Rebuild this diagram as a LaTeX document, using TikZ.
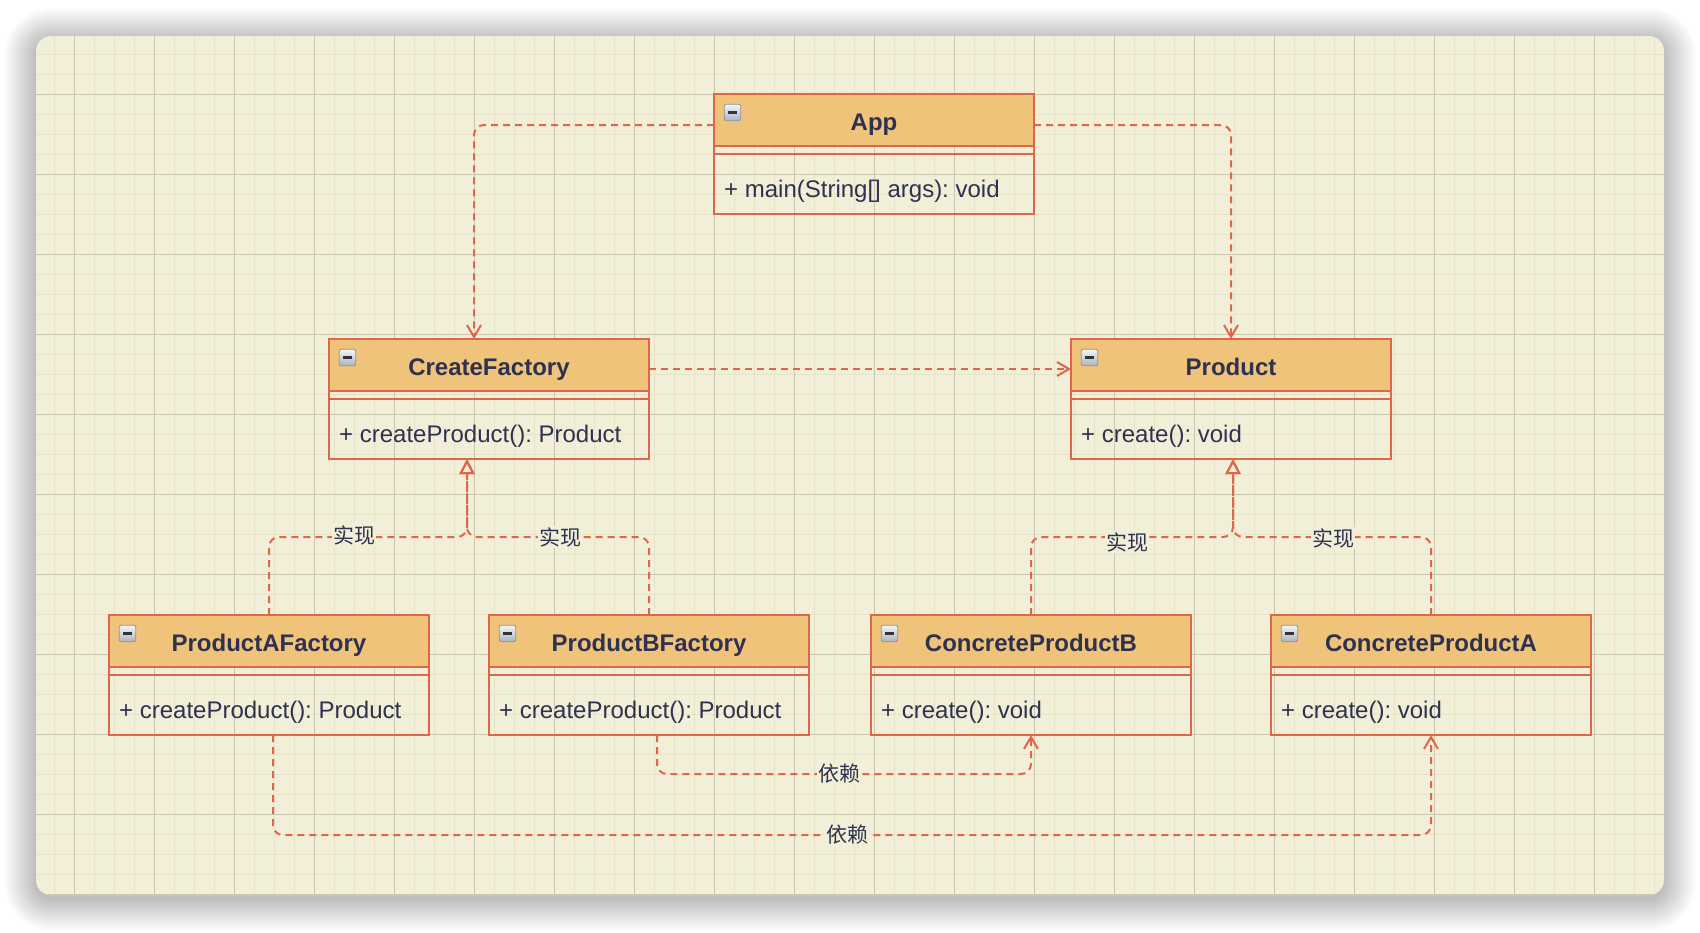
\documentclass[tikz,border=0pt]{standalone}
\usepackage{fontspec}
\setmainfont{Liberation Sans}
\newfontfamily\cjk{Noto Sans CJK SC}
\usetikzlibrary{arrows.meta}
\definecolor{bgc}{HTML}{F1EFD8}
\definecolor{minorc}{HTML}{E7E3C9}
\definecolor{majorc}{HTML}{CAC6B0}
\definecolor{hdr}{HTML}{EFC37A}
\definecolor{strk}{HTML}{E0664B}
\definecolor{txt}{HTML}{2F3150}
\definecolor{icontop}{HTML}{F4F6F8}
\definecolor{iconbot}{HTML}{A9B3BF}
\definecolor{iconline}{HTML}{8896A6}
\newcommand\umlclass[5]{%
  \filldraw[fill=hdr,draw=strk,line width=2.2pt] (#2,#3) rectangle ({#2+320},{#3+52});
  \draw[strk,line width=2.2pt] (#2,{#3+60}) -- ({#2+320},{#3+60});
  \node[classbox] (#1) at ({#2+160},{#3+60}) {};
  \node[icon] (#1-i) at ({#2+18.5},{#3+18.5}) {};
  \fill[black!80] ({#2+13.5},{#3+17.3}) rectangle ({#2+22.5},{#3+19.8});
  \node[titletext] (#1-t) at ({#2+160},{#3+36}) {#4};
  \node[membertext] (#1-m) at ({#2+10},{#3+103}) {#5};
}
\begin{document}
\frenchspacing
\begin{tikzpicture}[x=1pt,y=-1pt,
  classbox/.style={draw=strk,line width=2.2pt,minimum width=320pt,minimum height=120pt,inner sep=0pt,outer sep=0pt},
  icon/.style={draw=iconline,line width=0.8pt,rounded corners=1.5pt,minimum size=16.5pt,inner sep=0pt,top color=icontop,bottom color=iconbot},
  titletext/.style={font=\bfseries\fontsize{24pt}{28pt}\selectfont,text=txt,inner sep=0pt,anchor=base},
  membertext/.style={font=\fontsize{24pt}{28pt}\selectfont,text=txt,anchor=base west,inner sep=0pt},
  lbl/.style={font=\cjk\fontsize{21pt}{24pt}\selectfont,text=txt,fill=bgc,inner sep=1pt},
  dep/.style={strk,line width=2pt,dash pattern=on 7pt off 5pt,rounded corners=10pt,-{Straight Barb[length=12pt,width=14pt,line width=2pt]}},
  real/.style={strk,line width=2pt,dash pattern=on 7pt off 5pt,rounded corners=10pt,-{Triangle[open,length=15pt,width=15pt,line width=2pt]}},
  minorl/.style={minorc,line width=1.6pt},
  majorl/.style={majorc,line width=1pt}]
\useasboundingbox (0,0) rectangle (1700,932);
\fill[white] (0,0) rectangle (1700,932);
% shadow
\foreach \i [evaluate=\i as \r using {15+\i}] in {1,...,32} {
  \fill[black,opacity=0.0065,rounded corners=\r pt] ({36-\i},{40-\i}) rectangle ({1664+\i},{899+\i});
}
\fill[bgc,rounded corners=15pt] (36,36) rectangle (1664,895);
\begin{scope}
  \clip[rounded corners=15pt] (36,36) rectangle (1664,895);
  \foreach \k in {0,...,82} { \draw[minorl] ({14.3+20*\k},36) -- ({14.3+20*\k},895); }
  \foreach \k in {0,...,44} { \draw[minorl] (36,{14.3+20*\k}) -- (1664,{14.3+20*\k}); }
  \foreach \k in {0,...,21} { \draw[majorl] ({-5.7+80*\k},36) -- ({-5.7+80*\k},895); }
  \foreach \k in {0,...,11} { \draw[majorl] (36,{14.3+80*\k}) -- (1664,{14.3+80*\k}); }
\end{scope}
% classes
\umlclass{app}{714}{94}{App}{+ main(String[] args): void}
\umlclass{cf}{329}{339}{CreateFactory}{+ createProduct(): Product}
\umlclass{prod}{1071}{339}{Product}{+ create(): void}
\umlclass{pa}{109}{615}{ProductAFactory}{+ createProduct(): Product}
\umlclass{pb}{489}{615}{ProductBFactory}{+ createProduct(): Product}
\umlclass{cpb}{871}{615}{ConcreteProductB}{+ create(): void}
\umlclass{cpa}{1271}{615}{ConcreteProductA}{+ create(): void}
% junctions
\coordinate (j1) at (467,537);
\coordinate (j2) at (1233,537);
% dependencies from App and CreateFactory
\draw[dep] ([yshift=-31pt]app.north west) -| ([xshift=-15pt]cf.north);
\draw[dep] ([yshift=-31pt]app.north east) -| (prod.north);
\draw[dep] ([yshift=-30pt]cf.north east) -- ([yshift=-30pt]prod.north west);
% realizations
\draw[real] (pa.north) |- (j1) -- (j1 |- cf.south);
\draw[real] (pb.north) |- (j1) -- (j1 |- cf.south);
\draw[real] (cpb.north) |- (j2) -- (j2 |- prod.south);
\draw[real] (cpa.north) |- (j2) -- (j2 |- prod.south);
\node[lbl] (l1) at (354,535) {实现};
\node[lbl] (l2) at (560,537) {实现};
\node[lbl] (l3) at (1127,542) {实现};
\node[lbl] (l4) at (1333,538) {实现};
% lower dependencies
\draw[dep] ([xshift=8pt]pb.south) |- ([yshift=-39pt]cpb.south) -- (cpb.south);
\draw[dep] ([xshift=4pt]pa.south) |- ([yshift=-100pt]cpa.south) -- (cpa.south);
\node[lbl] (l5) at (839,774) {依赖};
\node[lbl] (l6) at (847,835) {依赖};
\end{tikzpicture}
\end{document}
